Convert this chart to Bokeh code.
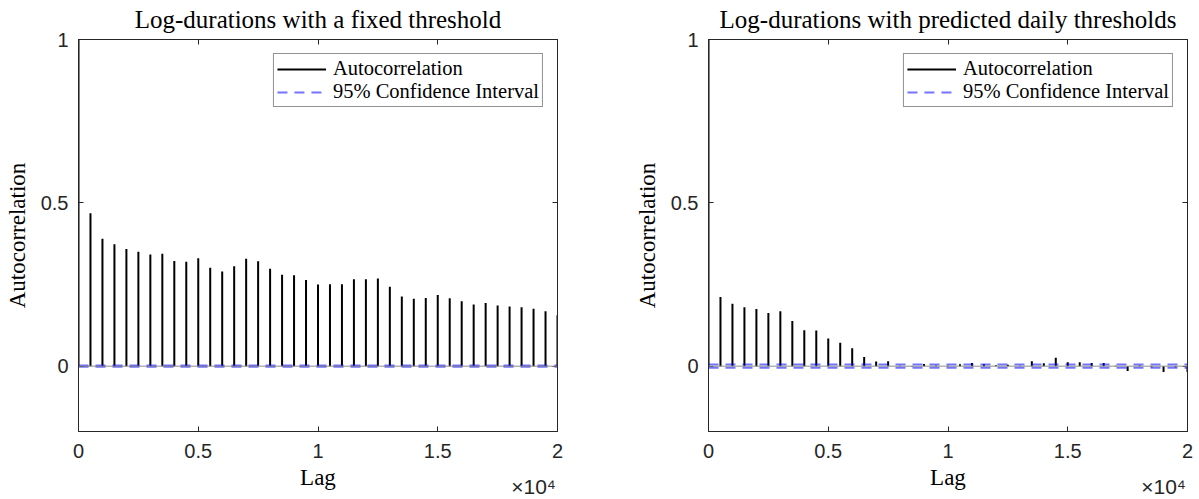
from bokeh.plotting import figure
from bokeh.models import (Span, LinearAxis, FixedTicker, Legend, LegendItem,
                          Range1d, ColumnDataSource, CustomJSTickFormatter)
from bokeh.layouts import row
from bokeh.embed import file_html
from bokeh.resources import INLINE

# ---------------- data ----------------
lags = list(range(0, 20001, 500))

acf_fixed = [1.0, 0.468, 0.390, 0.373, 0.359, 0.350, 0.342, 0.344, 0.322, 0.320,
             0.330, 0.301, 0.290, 0.306, 0.329, 0.321, 0.298, 0.280, 0.278, 0.264,
             0.250, 0.251, 0.251, 0.266, 0.266, 0.268, 0.243, 0.213, 0.206, 0.209,
             0.218, 0.208, 0.199, 0.189, 0.193, 0.186, 0.183, 0.180, 0.176, 0.168,
             0.156]

acf_pred = [1.0, 0.212, 0.191, 0.180, 0.175, 0.163, 0.168, 0.138, 0.110, 0.109,
            0.085, 0.072, 0.055, 0.028, 0.014, 0.015, 0.001, -0.002, 0.007, 0.002,
            0.001, 0.006, 0.010, 0.006, 0.003, 0.004, 0.001, 0.015, 0.009, 0.026,
            0.012, 0.012, 0.010, 0.010, 0.001, -0.015, 0.002, -0.003, -0.018, -0.003,
            -0.018]

ci_fixed = 0.002
ci_pred = 0.005

x_ticks = [0, 5000, 10000, 15000, 20000]
x_tick_labels = ["0", "0.5", "1", "1.5", "2"]
y_ticks = [0, 0.5, 1]
y_tick_labels = ["0", "0.5", "1"]
x_multiplier_tick = [19000]
x_multiplier_label = ["\u00d710\u2074"]

titles = ["Log-durations with a fixed threshold",
          "Log-durations with predicted daily thresholds"]
series_names = ["Autocorrelation", "95% Confidence Interval"]
x_label = "Lag"
y_label = "Autocorrelation"

SERIF = "Liberation Serif"
SANS = "Liberation Sans"
AX = "#262626"


def make_plot(title, acf, ci, mbl, mbr):
    p = figure(frame_width=479, frame_height=392,
               min_border_left=mbl, min_border_right=mbr,
               min_border_top=39, min_border_bottom=68,
               x_range=Range1d(0, 20000), y_range=Range1d(-0.2, 1),
               output_backend="svg", toolbar_location=None,
               title=title)
    p.title.text_font = SERIF
    p.title.text_font_size = "25px"
    p.title.text_font_style = "normal"
    p.title.align = "center"
    p.title.vertical_align = "top"
    p.title.standoff = 9
    p.title.text_color = "black"
    p.grid.visible = False
    p.outline_line_color = AX
    p.outline_line_width = 1
    p.background_fill_color = "white"
    p.border_fill_color = "white"

    # main axes
    for ax, ticks, labels in ((p.xaxis[0], x_ticks, x_tick_labels),
                              (p.yaxis[0], y_ticks, y_tick_labels)):
        ax.ticker = FixedTicker(ticks=ticks)
        ax.major_label_overrides = {t: l for t, l in zip(ticks, labels)}
        ax.major_tick_in = 5
        ax.major_tick_out = 0
        ax.minor_tick_line_color = None
        ax.axis_line_color = AX
        ax.major_tick_line_color = AX
        ax.major_label_text_font = SANS
        ax.major_label_text_font_size = "20px"
        ax.major_label_text_color = AX
        ax.axis_label_text_font = SERIF
        ax.axis_label_text_font_size = "23px"
        ax.axis_label_text_font_style = "normal"
        ax.axis_label_text_color = "black"
    p.xaxis[0].axis_label = x_label
    p.yaxis[0].axis_label = y_label
    p.xaxis[0].major_label_standoff = 12
    p.xaxis[0].axis_label_standoff = 4
    p.yaxis[0].major_label_standoff = 10
    p.yaxis[0].axis_label_standoff = 8

    # exponent text under the right end of the x axis
    mult = LinearAxis(ticker=FixedTicker(ticks=x_multiplier_tick),
                      major_label_overrides={t: l for t, l in zip(x_multiplier_tick,
                                                                   x_multiplier_label)})
    mult.axis_line_color = None
    mult.major_tick_line_color = None
    mult.minor_tick_line_color = None
    mult.major_tick_in = 0
    mult.major_tick_out = 0
    mult.major_label_standoff = -18
    mult.major_label_text_font = SANS
    mult.major_label_text_font_size = "21px"
    mult.major_label_text_color = AX
    p.add_layout(mult, "below")

    # box ticks on top and right
    blank = CustomJSTickFormatter(code="return ''")
    top = LinearAxis(ticker=FixedTicker(ticks=x_ticks), formatter=blank)
    right = LinearAxis(ticker=FixedTicker(ticks=y_ticks), formatter=blank)
    for ax in (top, right):
        ax.major_tick_in = 5
        ax.major_tick_out = 0
        ax.minor_tick_line_color = None
        ax.major_label_standoff = 0
        ax.axis_line_color = AX
        ax.major_tick_line_color = AX
    p.add_layout(top, "above")
    p.add_layout(right, "right")

    src = ColumnDataSource(dict(lag=lags, acf=acf, zero=[0] * len(lags),
                                up=[ci] * len(lags), lo=[-ci] * len(lags)))

    p.add_layout(Span(location=0, dimension="width", line_color="#8c8c8c", line_width=1))

    stems = p.segment(x0="lag", y0="zero", x1="lag", y1="acf", source=src,
                      line_color="black", line_width=2)
    ci_up = p.line(x="lag", y="up", source=src, line_color="#0000ff", line_alpha=0.55,
                   line_width=2, line_dash="10 7")
    p.line(x="lag", y="lo", source=src, line_color="#0000ff", line_alpha=0.55,
           line_width=2, line_dash="10 7")

    legend = Legend(items=[LegendItem(label=series_names[0], renderers=[stems]),
                           LegendItem(label=series_names[1], renderers=[ci_up])],
                    location="top_right", margin=14, padding=3, spacing=0,
                    label_height=22, glyph_height=22, glyph_width=49,
                    label_standoff=7,
                    label_text_font=SERIF, label_text_font_size="20.5px",
                    label_text_color="black",
                    border_line_color=AX, border_line_width=1,
                    background_fill_color="white", background_fill_alpha=1)
    p.add_layout(legend)
    return p


p1 = make_plot(titles[0], acf_fixed, ci_fixed, 78, 73)
p2 = make_plot(titles[1], acf_pred, ci_pred, 78, 10)
layout = row(p1, p2)

open("out.html", "w").write(file_html(layout, INLINE))
